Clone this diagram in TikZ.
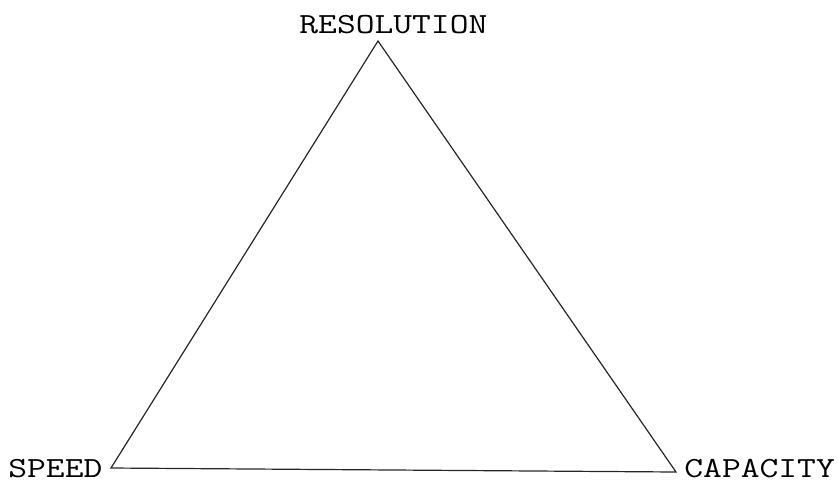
\documentclass[tikz,border=0pt]{standalone}
\usepackage{fontspec}
\setmonofont[FakeStretch=1.25]{Latin Modern Mono}
\begin{document}
\begin{tikzpicture}[x=0.5pt,y=-0.5pt,
  lbl/.style={inner sep=0pt,font=\ttfamily\fontsize{14.6}{17}\selectfont},
  edge/.style={draw=black!85,line width=0.6pt}]
\useasboundingbox (0,0) rectangle (838,482);
\coordinate (top) at (378,41);
\coordinate (bl) at (111,468);
\coordinate (br) at (676,472);
\draw[edge,line join=miter] (top) -- (bl) -- (br) -- cycle;
\node[lbl,anchor=base west] (res) at (299,33) {RESOLUTION};
\node[lbl,anchor=base west] (spd) at (8,477) {SPEED};
\node[lbl,anchor=base west] (cap) at (684,477) {CAPACITY};
\end{tikzpicture}
\end{document}
